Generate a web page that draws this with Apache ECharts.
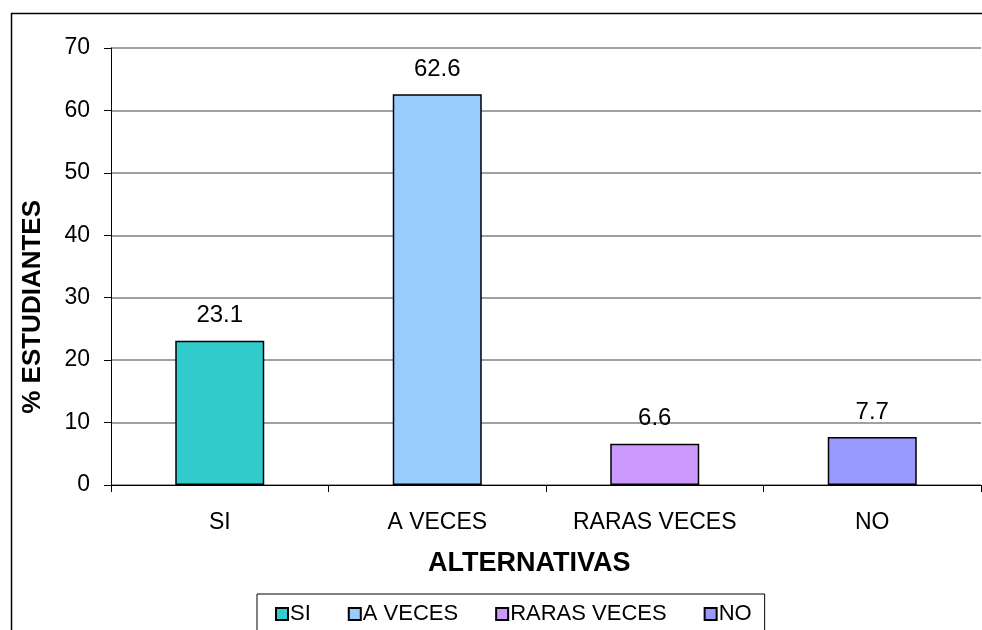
<!DOCTYPE html>
<html>
<head>
<meta charset="utf-8">
<script src="https://cdn.jsdelivr.net/npm/echarts@6/dist/echarts.min.js"></script>
<style>
  html, body { margin: 0; padding: 0; background: #fff; }
  #chart { width: 982px; height: 630px; }
</style>
</head>
<body>
<div id="chart"></div>
<script>
// data
const categories = ['SI', 'A VECES', 'RARAS VECES', 'NO']
const values = [23.1, 62.6, 6.6, 7.7]
const barColors = ['#33CCCC', '#99CCFF', '#CC99FF', '#9999FF']
const yTicks = [0, 10, 20, 30, 40, 50, 60, 70]

const font = 'Liberation Sans, Arial, sans-serif'

const chart = echarts.init(document.getElementById('chart'), null, { renderer: 'canvas' })

// one series per category so the legend gets four entries
const series = categories.map((name, i) => ({
  name: name,
  type: 'bar',
  stack: 'all',
  barWidth: 89,
  data: values.map((v, j) => (j === i ? v : null)),
  itemStyle: { color: barColors[i], borderColor: '#000', borderWidth: 1.5 },
  label: {
    show: true,
    position: 'top',
    distance: 13,
    color: '#000',
    fontFamily: font,
    fontSize: 24
  },
  emphasis: { disabled: true }
}))

chart.setOption({
  animation: false,
  backgroundColor: '#fff',
  grid: { left: 111, right: 1, top: 48, bottom: 145 },
  xAxis: {
    type: 'category',
    data: categories,
    axisLine: { lineStyle: { color: '#000', width: 1 } },
    axisTick: { show: true, length: 7, lineStyle: { color: '#000' } },
    axisLabel: { color: '#000', fontFamily: font, fontSize: 23, margin: 26 }
  },
  yAxis: {
    type: 'value',
    min: yTicks[0],
    max: yTicks[yTicks.length - 1],
    interval: 10,
    axisLine: { show: true, lineStyle: { color: '#000', width: 1 } },
    axisTick: { show: true, length: 7, lineStyle: { color: '#000' } },
    axisLabel: { color: '#000', fontFamily: font, fontSize: 23, margin: 21 },
    splitLine: { lineStyle: { color: '#808080', width: 1.5 } }
  },
  legend: {
    left: 257,
    top: 594,
    itemWidth: 12,
    itemHeight: 12,
    itemGap: 37,
    padding: [9, 13, 12, 18],
    borderColor: '#000',
    borderWidth: 1,
    icon: 'rect',
    textStyle: { color: '#000', fontFamily: font, fontSize: 22, padding: [0, 0, 0, -3] },
    data: categories
  },
  graphic: [
    {
      type: 'rect',
      left: 9,
      top: 11,
      z: -1,
      shape: { width: 1000, height: 700 },
      style: { fill: 'none', stroke: '#000', lineWidth: 1.5 }
    },
    {
      type: 'text',
      left: 20,
      top: 200,
      rotation: Math.PI / 2,
      style: { text: '% ESTUDIANTES', font: 'bold 26px ' + font, fill: '#000' }
    },
    {
      type: 'text',
      left: 428,
      top: 550,
      style: { text: 'ALTERNATIVAS', font: 'bold 27px ' + font, fill: '#000' }
    }
  ],
  series: series
})
</script>
</body>
</html>
